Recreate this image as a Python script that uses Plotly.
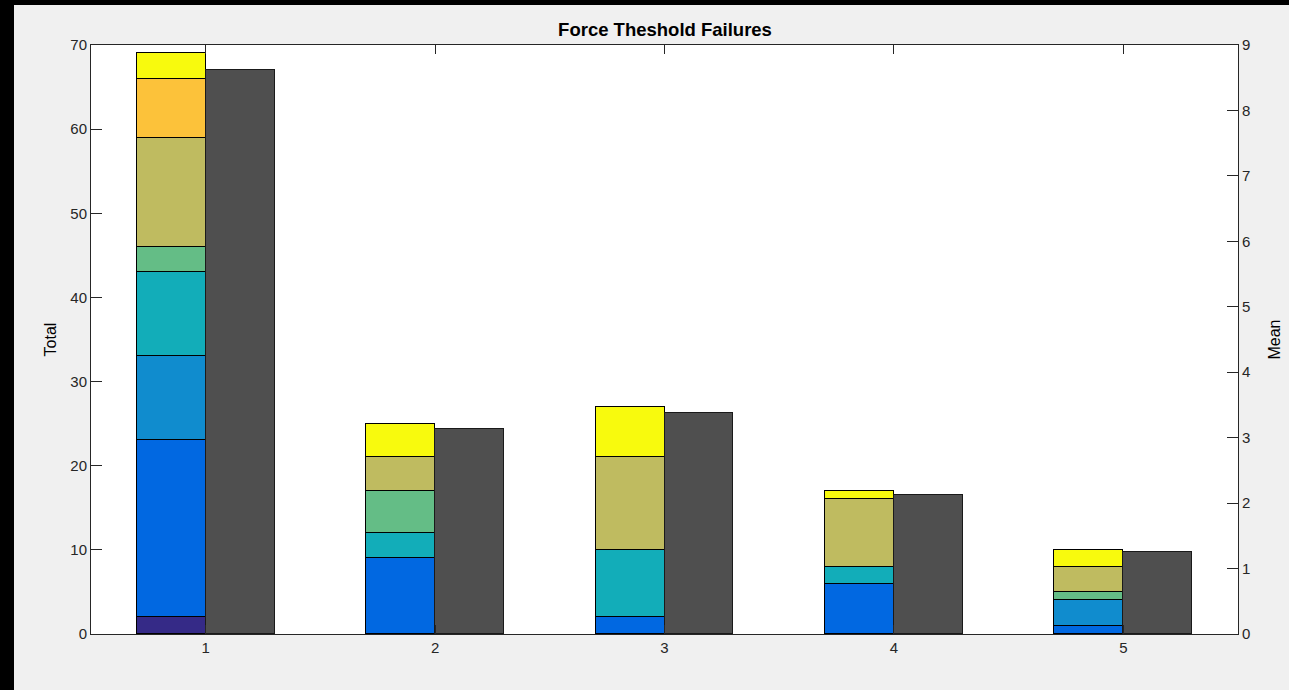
import plotly.graph_objects as go

# Failure counts per test group, split by threshold band (stacked)
groups = [1, 2, 3, 4, 5]
band_counts = [
    [2, 0, 0, 0, 0],
    [21, 9, 2, 6, 1],
    [10, 0, 0, 0, 3],
    [10, 3, 8, 2, 0],
    [3, 5, 0, 0, 1],
    [13, 4, 11, 8, 3],
    [7, 0, 0, 0, 0],
    [3, 4, 6, 1, 2],
]
band_colors = ["#352a87", "#0168e1", "#108cce", "#12adb9",
               "#64bd86", "#bfbb60", "#fcc23a", "#f8fa0d"]
# Mean failures per band for each group
mean_values = [8.625, 3.125, 3.375, 2.125, 1.25]

fig = go.Figure()
for counts, color in zip(band_counts, band_colors):
    fig.add_trace(go.Bar(
        x=groups, y=[c if c else None for c in counts],
        width=0.3, offset=-0.3,
        marker=dict(color=color, line=dict(color="#000000", width=1.2)),
        xaxis="x", yaxis="y", showlegend=False,
    ))

fig.add_trace(go.Bar(
    x=groups, y=mean_values,
    width=0.3, offset=0.0,
    marker=dict(color="#4f4f4f", line=dict(color="#1a1a1a", width=1.2)),
    xaxis="x", yaxis="y2", showlegend=False,
))

axis_col = "#262626"
tick_font = dict(family="Liberation Sans, Arial, sans-serif", size=15, color=axis_col)
label_font = dict(family="Liberation Sans, Arial, sans-serif", size=16, color="#000000")

W, H = 1289, 690
ml, mr, mt, mb = 91, 51, 45, 56
pw, ph = W - ml - mr, H - mt - mb

fig.update_layout(
    width=W, height=H,
    margin=dict(l=ml, r=mr, t=mt, b=mb, autoexpand=False),
    paper_bgcolor="#f0f0f0", plot_bgcolor="#ffffff",
    barmode="stack", bargap=0,
    showlegend=False,
    title=dict(text="<b>Force Theshold Failures</b>", x=(665 / W), xanchor="center",
               y=1 - 30 / H, yanchor="middle",
               font=dict(family="Liberation Sans, Arial, sans-serif", size=18.5, color="#000000")),
    xaxis=dict(range=[0.5, 5.5], tickvals=groups, ticktext=[str(g) for g in groups],
               ticks="inside", ticklen=9, tickcolor=axis_col, tickwidth=1,
               showline=True, linecolor=axis_col, linewidth=1, mirror="ticks",
               showgrid=False, zeroline=False, tickfont=tick_font, automargin=False),
    yaxis=dict(range=[0, 70], tickvals=list(range(0, 71, 10)),
               ticks="inside", ticklen=11, tickcolor=axis_col, tickwidth=1,
               showline=True, linecolor=axis_col, linewidth=1,
               showgrid=False, zeroline=False, tickfont=tick_font, automargin=False,
               title=dict(text="Total", font=label_font, standoff=9)),
    yaxis2=dict(range=[0, 9], tickvals=list(range(0, 10)), overlaying="y", side="right",
                ticks="inside", ticklen=11, tickcolor=axis_col, tickwidth=1,
                showline=True, linecolor=axis_col, linewidth=1,
                showgrid=False, zeroline=False, tickfont=tick_font, automargin=False,
                title=dict(text="Mean", font=label_font, standoff=19)),
    shapes=[
        # dark window frame along the left and top edges
        dict(type="rect", xref="paper", yref="paper", layer="above",
             x0=-ml / pw, x1=(14 - ml) / pw, y0=-mb / ph, y1=1 + mt / ph,
             fillcolor="#000000", line=dict(width=0)),
        dict(type="rect", xref="paper", yref="paper", layer="above",
             x0=-ml / pw, x1=1 + mr / pw, y0=1 + (mt - 5) / ph, y1=1 + mt / ph,
             fillcolor="#000000", line=dict(width=0)),
    ],
)

fig.write_html("out.html")
